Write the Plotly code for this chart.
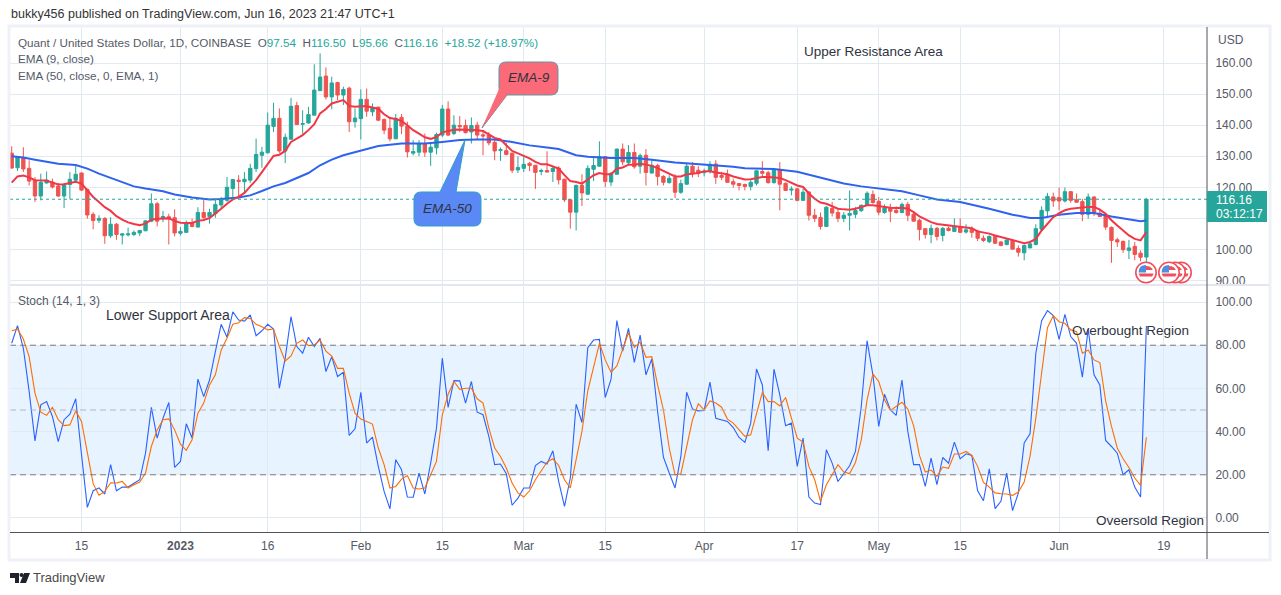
import pandas as pd
import plotly.graph_objects as go
from plotly.subplots import make_subplots

# daily candles, one line per month (Dec 3 2022 -> Jun 16 2023)
dates = pd.date_range("2022-12-03", "2023-06-16", freq="D")

opens = [
    131.0,126.3,129.5,126.1,122.3,117.2,121.4,121.7,120.4,117.2,120.9,122.3,124.6,119.3,111.3,109.4,110.0,104.4,108.1,104.6,104.7,104.8,105.3,106.0,109.1,114.7,110.0,110.5,110.2,
    105.2,105.5,108.5,107.2,111.9,110.6,111.5,114.3,115.8,119.6,122.3,121.8,122.3,126.0,130.3,131.1,139.6,142.2,131.7,135.5,146.3,140.3,140.7,143.2,151.1,155.8,149.1,153.7,149.7,151.9,141.1,
    142.1,148.3,144.3,145.8,141.8,139.0,135.6,142.5,139.7,131.0,131.3,134.1,131.3,132.7,136.8,145.2,137.3,139.9,139.9,137.8,140.0,136.9,136.8,134.5,131.9,131.8,131.0,125.6,
    126.1,127.7,127.1,125.1,125.4,125.1,126.2,122.6,116.0,112.0,120.6,117.8,125.8,126.8,129.9,121.7,124.2,132.3,127.9,131.2,126.8,130.3,124.6,127.0,123.5,121.5,123.1,118.4,121.0,126.8,125.5,
    124.7,125.2,127.5,123.8,123.8,121.8,121.2,120.9,120.3,121.3,125.1,124.7,121.5,125.6,121.3,119.1,119.5,115.8,118.5,111.0,110.3,107.4,113.2,111.9,110.0,111.0,111.3,112.5,114.2,117.7,
    115.5,111.9,113.4,112.6,111.9,114.5,111.3,109.4,106.7,104.8,106.8,104.5,106.8,105.8,107.4,105.6,106.5,105.9,103.6,102.5,104.2,102.4,101.6,102.9,100.3,98.9,100.5,101.6,106.5,112.4,116.9,
    116.7,115.6,118.6,116.0,115.4,111.3,116.9,111.7,111.0,107.1,103.1,102.6,99.7,101.0,98.8,97.54,
]
highs = [
    133.2,130.0,132.9,128.7,123.3,124.4,125.1,122.8,121.4,121.4,124.9,127.3,124.8,119.6,112.0,111.0,110.4,110.4,108.5,105.3,107.0,106.1,106.3,109.3,118.0,115.3,112.4,111.5,112.9,
    107.2,109.3,109.9,113.6,116.0,113.1,116.3,116.9,123.3,122.6,123.9,124.9,127.6,135.7,133.0,144.1,147.2,145.4,137.3,148.8,147.5,144.8,145.9,159.6,163.1,158.6,155.6,154.0,152.4,152.4,145.4,
    151.5,151.8,147.0,145.9,142.2,142.5,143.6,143.6,141.1,135.2,135.2,137.3,134.3,137.6,146.5,147.7,143.2,142.9,141.8,142.5,141.1,138.4,137.8,135.7,132.8,134.3,131.1,130.0,
    130.0,128.2,127.2,126.0,131.6,126.6,126.8,122.8,116.0,120.9,124.2,127.1,129.8,134.8,130.0,124.9,132.5,134.1,133.6,134.1,130.9,132.3,128.7,127.6,123.9,123.9,124.2,122.5,128.0,128.1,126.8,
    126.0,128.4,128.7,125.0,125.7,122.8,121.4,121.2,122.3,125.5,128.4,125.3,126.0,128.1,121.5,120.3,119.8,119.6,118.7,113.1,111.9,113.9,115.3,113.1,112.0,119.0,113.7,114.5,118.7,119.0,
    116.9,114.5,114.7,113.9,115.1,115.3,111.7,109.9,106.8,108.0,107.2,107.2,107.4,110.0,110.0,108.1,107.4,106.3,104.5,104.5,104.5,102.7,103.4,103.4,101.3,101.6,102.0,108.1,113.9,118.2,118.3,
    119.9,119.9,118.8,118.0,116.3,118.0,117.1,113.1,111.7,107.4,103.8,102.9,103.1,102.4,99.7,116.50,
]
lows = [
    126.0,125.3,124.9,120.6,115.3,115.8,121.2,119.6,116.9,113.3,116.1,121.7,118.8,109.9,106.5,108.5,101.8,103.7,103.1,101.6,104.2,104.3,104.3,105.9,108.8,107.4,108.8,101.6,104.2,
    104.5,105.3,107.2,107.1,109.9,108.3,110.2,113.1,115.3,116.9,116.3,118.5,121.4,124.9,126.3,130.9,137.8,131.1,127.8,135.4,140.1,137.3,140.5,143.2,151.0,148.3,145.1,148.1,146.5,137.8,139.2,
    135.4,142.7,142.9,141.3,137.1,134.8,135.5,137.1,129.6,130.3,130.0,129.8,126.9,130.6,136.2,136.5,136.8,137.8,137.3,134.1,135.2,130.3,133.5,128.7,128.5,130.3,124.6,124.6,
    124.9,125.2,119.5,123.9,124.9,121.7,120.9,115.3,106.7,106.1,114.0,117.6,122.0,126.7,120.1,120.4,124.1,127.1,127.4,126.0,124.4,120.6,124.4,120.6,120.6,121.2,116.5,117.9,120.9,123.2,123.3,
    123.5,124.4,121.1,122.3,121.5,119.9,119.0,119.0,119.0,120.6,123.1,121.2,121.2,112.6,118.9,117.4,115.5,115.7,109.3,108.8,106.4,107.3,110.6,108.8,108.8,106.1,110.1,112.0,114.1,114.7,
    111.0,111.5,108.8,111.5,111.7,109.1,109.0,102.9,103.5,102.0,102.9,102.6,105.8,105.7,105.4,105.1,103.8,102.7,102.4,102.0,101.8,101.0,101.3,100.0,97.7,96.5,100.4,101.3,106.3,110.4,113.7,
    112.6,115.1,115.0,115.0,109.1,109.9,110.8,110.4,106.3,95.7,100.8,98.9,96.9,96.5,96.2,95.66,
]
closes = [
    126.2,129.8,125.9,122.0,117.2,121.6,122.3,120.1,117.2,120.9,122.6,124.2,119.1,111.1,109.3,110.0,104.4,108.1,104.8,105.0,105.0,105.5,106.1,109.2,114.7,109.1,110.6,109.9,105.3,
    105.8,108.5,107.4,111.9,110.3,111.9,114.5,116.2,120.0,122.5,121.9,122.6,126.1,130.6,131.3,140.0,142.2,131.7,136.1,146.1,140.2,140.5,143.4,151.3,155.5,149.1,153.6,149.7,151.5,141.1,142.3,
    148.3,144.5,145.6,141.6,138.4,135.6,142.2,139.7,131.4,131.5,134.1,131.3,132.9,137.0,145.2,136.8,140.0,139.5,137.6,139.9,136.8,136.5,134.3,131.7,132.1,130.6,125.5,126.4,
    127.4,127.0,124.8,125.4,124.9,126.1,122.4,116.0,112.0,120.6,118.2,126.1,127.0,129.9,121.9,124.5,132.3,128.2,131.2,126.6,130.2,124.8,127.1,123.5,121.6,122.9,118.4,121.2,126.8,124.6,124.5,
    125.0,127.4,123.2,123.2,121.6,121.0,120.6,120.3,121.6,125.3,124.5,121.5,125.7,121.0,119.0,119.4,115.8,118.4,111.0,110.0,107.4,113.6,111.7,110.0,111.0,111.6,112.5,114.2,118.1,115.1,
    112.0,113.4,112.3,111.9,114.5,111.0,109.1,106.4,104.8,106.8,104.2,106.8,106.1,107.4,105.5,106.3,105.5,103.6,102.9,104.2,102.0,101.3,103.0,100.1,99.1,101.3,101.8,106.7,112.6,117.1,115.6,
    115.6,118.6,115.8,115.2,111.3,116.9,111.5,110.6,107.2,102.9,102.4,99.9,100.5,98.4,97.5,116.16,
]

ema9 = [
    121.5,123.5,123.8,123.2,122.3,122.2,122.2,121.5,120.9,121.0,121.3,121.8,121.2,119.0,116.9,115.3,113.6,112.4,110.7,109.6,108.7,108.2,107.8,108.3,109.6,109.9,110.0,110.0,109.2,
    108.6,108.5,108.5,109.2,109.5,110.1,111.5,113.1,114.7,116.1,116.9,118.2,120.3,122.3,124.9,127.6,130.1,130.5,131.7,134.6,135.7,136.8,138.4,140.3,143.8,145.2,147.0,147.5,148.1,146.2,145.9,
    146.1,146.1,145.7,145.3,143.5,142.3,142.0,141.3,140.0,138.4,137.3,136.1,135.6,136.2,137.7,138.2,138.5,138.6,138.6,138.6,138.4,138.1,137.0,135.9,135.4,133.5,131.7,130.9,
    130.1,129.3,128.2,127.4,127.4,126.8,126.0,123.9,122.0,121.7,121.2,122.5,123.9,124.6,124.2,124.2,126.0,126.4,127.3,127.3,127.6,127.3,126.9,126.2,125.3,124.4,123.5,123.5,124.2,124.4,124.6,
    125.2,125.2,124.8,124.6,124.2,123.5,122.9,122.5,122.6,123.0,123.3,123.3,123.1,123.0,122.3,121.5,120.6,120.1,118.0,116.3,115.1,114.7,114.0,113.1,112.9,112.8,113.1,113.6,114.2,114.2,
    113.9,113.6,113.4,113.3,113.4,113.1,112.0,110.6,109.6,108.8,108.2,108.0,107.6,107.5,107.2,107.0,106.8,105.8,105.5,105.1,104.5,104.0,103.4,102.9,102.4,102.0,102.4,103.4,106.1,108.3,110.4,
    111.7,112.6,113.1,113.3,113.7,113.7,113.7,112.8,111.5,109.4,107.7,106.1,104.5,103.4,102.9,105.6,
]

# the slow average is smooth enough to read every few days
ema50_dates = [
    "2022-12-03","2022-12-05","2022-12-07","2022-12-09","2022-12-11","2022-12-14","2022-12-16","2022-12-18","2022-12-20","2022-12-22","2022-12-24","2022-12-26","2022-12-29","2022-12-31",
    "2023-01-03","2023-01-06","2023-01-08","2023-01-11","2023-01-13","2023-01-15","2023-01-17","2023-01-19","2023-01-21","2023-01-23","2023-01-25","2023-01-27","2023-01-29",
    "2023-02-01","2023-02-04","2023-02-08","2023-02-12","2023-02-15","2023-02-18","2023-02-21","2023-02-24","2023-02-27",
    "2023-03-02","2023-03-05","2023-03-07","2023-03-10","2023-03-12","2023-03-16","2023-03-20","2023-03-23","2023-03-27","2023-03-30",
    "2023-04-03","2023-04-06","2023-04-08","2023-04-13","2023-04-17","2023-04-19","2023-04-22","2023-04-25","2023-04-28",
    "2023-05-01","2023-05-05","2023-05-08","2023-05-11","2023-05-15","2023-05-17","2023-05-20","2023-05-24","2023-05-27","2023-05-29",
    "2023-06-01","2023-06-04","2023-06-07","2023-06-10","2023-06-13","2023-06-15","2023-06-16",
]
ema50 = [
    130.0,129.6,128.9,128.3,127.6,127.2,126.0,124.4,123.0,121.6,120.3,119.6,118.7,117.7,
    116.7,116.1,116.2,116.7,117.4,118.8,120.3,121.4,123.1,124.6,127.1,128.9,130.3,
    131.9,133.3,134.1,134.1,134.6,135.2,135.4,135.4,134.6,
    133.5,132.8,132.3,130.3,129.8,129.4,129.4,128.9,128.0,127.6,
    127.1,126.6,126.1,125.9,125.0,124.1,122.6,121.2,120.3,
    119.6,118.7,117.4,116.1,115.3,114.5,113.1,111.2,110.1,110.1,
    111.2,111.7,111.7,110.6,109.7,109.1,109.3,
]

stoch_k = [
    80.9,89.1,78.6,58.6,35.7,52.4,53.9,47.0,35.4,45.5,48.1,55.2,29.3,4.9,12.6,13.9,11.1,24.7,12.6,14.3,14.3,16.2,17.7,30.0,51.2,37.0,46.2,53.5,23.4,
    26.2,43.6,37.0,64.3,56.2,63.9,77.0,89.7,83.7,95.5,91.7,91.2,94.0,84.4,86.7,89.7,87.5,60.1,74.0,93.2,79.4,76.3,83.7,79.4,83.2,67.8,74.7,65.5,67.5,38.2,41.3,
    58.2,34.7,37.4,23.9,12.3,4.2,27.0,22.3,9.7,9.6,20.8,11.1,25.4,41.6,74.0,51.2,63.6,63.5,53.2,63.2,49.0,47.8,37.8,24.7,25.0,20.5,5.9,9.2,
    13.9,13.9,24.3,26.2,25.0,31.1,16.9,5.4,18.5,52.7,44.2,78.9,82.4,82.7,55.8,64.3,91.4,77.3,87.8,72.1,84.7,66.3,73.7,49.3,28.2,20.8,13.9,28.5,58.2,50.4,49.6,
    49.8,62.9,46.2,45.5,44.7,41.9,37.3,35.0,43.9,69.0,61.6,31.1,68.9,57.0,42.7,43.9,23.9,37.0,9.7,6.9,6.2,31.6,25.4,16.9,20.8,24.2,30.8,51.6,82.1,66.3,
    42.4,57.3,50.1,47.5,63.9,40.1,24.7,24.7,14.6,27.7,15.4,28.0,25.4,35.1,27.4,29.7,29.0,12.6,8.0,22.8,4.3,7.7,20.8,3.4,11.6,34.7,39.0,76.3,91.4,96.0,93.7,
    82.7,94.3,84.0,80.9,65.2,87.5,66.3,61.6,35.9,33.1,30.0,20.0,22.3,14.3,9.7,88.9,
]
stoch_d = [
    86.6,87.5,82.9,74.7,57.8,49.0,47.5,51.2,45.5,42.8,43.1,49.6,44.7,30.0,15.9,10.5,12.3,16.3,16.2,16.9,13.9,15.4,16.6,20.8,33.1,40.8,45.5,45.9,40.8,
    34.2,31.3,36.2,48.5,53.2,61.6,66.3,77.8,83.2,89.7,90.4,92.8,92.4,89.7,88.6,87.1,87.5,79.4,72.7,75.0,80.9,82.4,79.8,80.1,82.4,77.3,75.0,69.3,69.3,57.8,48.5,
    45.8,44.7,43.5,32.4,24.7,13.9,14.6,18.0,19.7,13.9,13.4,13.9,20.0,26.2,47.8,57.3,63.2,59.6,60.1,60.1,55.2,53.2,41.6,32.4,28.5,23.1,16.2,11.6,
    9.7,12.6,17.7,21.6,25.9,27.4,24.3,17.7,13.9,27.0,40.1,58.9,69.3,80.9,73.2,67.5,70.4,77.8,85.8,79.0,81.4,74.4,74.7,61.6,50.1,32.4,20.0,20.5,33.1,45.5,52.9,
    50.1,54.2,53.2,51.3,45.8,43.9,40.8,37.8,38.5,48.5,58.1,53.9,53.9,51.9,55.8,46.2,37.0,35.1,23.9,17.7,7.7,15.4,20.3,24.7,21.3,20.6,25.7,36.2,54.7,66.7,
    63.2,54.7,49.8,51.6,53.6,50.4,42.8,29.0,21.3,22.2,19.3,23.6,23.0,29.6,29.6,30.8,29.0,23.9,16.5,14.3,11.6,11.2,11.1,10.5,12.0,16.6,28.5,46.2,68.6,88.1,93.7,
    90.9,90.1,87.1,86.3,76.3,77.8,73.2,72.0,54.2,42.4,32.4,27.4,23.4,18.5,15.1,37.4,
]

time_tickvals = ["2022-12-15","2023-01-01","2023-01-16","2023-02-01","2023-02-15","2023-03-01","2023-03-15","2023-04-01","2023-04-17","2023-05-01","2023-05-15","2023-06-01","2023-06-19"]
time_ticktext = ["15","<b>2023</b>","16","Feb","15","Mar","15","Apr","17","May","15","Jun","19"]
price_ticks = [90, 100, 110, 120, 130, 140, 150, 160]
# 110.00 sits behind the last price tag
price_ticktext = ["90.00", "100.00", "", "120.00", "130.00", "140.00", "150.00", "160.00"]
stoch_ticks = [0, 20, 40, 60, 80, 100]

UP = "#26a69a"
DOWN = "#ef5350"
GRID = "#e1eaf1"
TEXT = "#555a66"
FONT = "Liberation Sans"
W, H = 1281, 595
LEFT, RIGHT, TOP, BOTTOM = 10, 1207, 27, 532


# page pixels -> paper fractions
def px(x):
    return (x - LEFT) / (RIGHT - LEFT)


def py(y):
    return (BOTTOM - y) / (BOTTOM - TOP)


def path(points):
    # points are (cmd, x, y) or (cmd, cx, cy, x, y) for Q
    out = []
    for p in points:
        if p[0] == "Z":
            out.append("Z")
        elif p[0] == "Q":
            out.append(f"Q {px(p[1]):.5f} {py(p[2]):.5f} {px(p[3]):.5f} {py(p[4]):.5f}")
        else:
            out.append(f"{p[0]} {px(p[1]):.5f} {py(p[2]):.5f}")
    return " ".join(out)


def pixel_shape(points, fill, line=None, width=1):
    return dict(type="path", xref="paper", yref="paper", path=path(points), fillcolor=fill,
                line=dict(color=line or "rgba(0,0,0,0)", width=width))


def pixel_line(x0, y0, x1, y1, color, width=1, dash="solid"):
    return dict(type="line", xref="paper", yref="paper", x0=px(x0), y0=py(y0), x1=px(x1), y1=py(y1),
                line=dict(color=color, width=width, dash=dash))


def label(x, y, text, size=12, color=TEXT, anchor="left", **kw):
    return dict(xref="paper", yref="paper", x=px(x), y=py(y), text=text, showarrow=False, xanchor=anchor,
                yanchor="middle", borderpad=0, font=dict(family=FONT, size=size, color=color), **kw)


def callout(x0, y0, x1, y1, tail, fill, line):
    r = 7
    (tx, ty), (bx0, by0), (bx1, by1) = tail
    if by0 <= y0 + 1:  # tail leaves the top edge
        top = [("L", bx0, y0), ("L", tx, ty), ("L", bx1, y0)]
        bot = []
    else:
        top = []
        bot = [("L", bx1, y1), ("L", tx, ty), ("L", bx0, y1)]
    pts = [("M", x0 + r, y0)] + top + [("L", x1 - r, y0), ("Q", x1, y0, x1, y0 + r), ("L", x1, y1 - r), ("Q", x1, y1, x1 - r, y1)]
    pts += bot + [("L", x0 + r, y1), ("Q", x0, y1, x0, y1 - r), ("L", x0, y0 + r), ("Q", x0, y0, x0 + r, y0), ("Z",)]
    return pixel_shape(pts, fill, line, 1)


def flag(cx, cy):
    def disc(r, fill, line=None, w=1):
        return dict(type="circle", xref="paper", yref="paper", x0=px(cx - r), x1=px(cx + r), y0=py(cy + r), y1=py(cy - r),
                    fillcolor=fill, line=dict(color=line or "rgba(0,0,0,0)", width=w))
    r = 7.4
    return [
        disc(10.2, "#ffffff", "#ef4f5c", 1.6),
        disc(r + 0.3, "#ffffff"),
        pixel_shape([("M", cx, cy - r + 1), ("Q", cx + r * 0.7, cy - r + 1, cx + r * 0.92, cy - 2.5), ("L", cx, cy - 2.5), ("Z",)], "#ef4f5c"),
        pixel_shape([("M", cx - r, cy + 1), ("L", cx + r, cy + 1), ("Q", cx + r, cy + 3, cx + r * 0.8, cy + 4), ("L", cx - r * 0.8, cy + 4), ("Z",)], "#ef4f5c"),
        pixel_shape([("M", cx - r, cy), ("Q", cx - r, cy - r, cx, cy - r), ("L", cx, cy), ("Z",)], "#4d8fe0"),
    ]


fig = make_subplots(rows=2, cols=1, shared_xaxes=True, vertical_spacing=0.003, row_heights=[0.51, 0.49])

fig.add_trace(go.Candlestick(
    x=dates, open=opens, high=highs, low=lows, close=closes,
    increasing=dict(line=dict(color=UP, width=1), fillcolor=UP),
    decreasing=dict(line=dict(color=DOWN, width=1), fillcolor=DOWN),
    whiskerwidth=0, hoverinfo="skip",
), row=1, col=1)
fig.add_trace(go.Scatter(x=ema50_dates, y=ema50, mode="lines", line=dict(color="#2f62ee", width=2), hoverinfo="skip"), row=1, col=1)
fig.add_trace(go.Scatter(x=dates, y=ema9, mode="lines", line=dict(color="#f23645", width=2), hoverinfo="skip"), row=1, col=1)
fig.add_trace(go.Scatter(x=dates, y=stoch_k, mode="lines", line=dict(color="#2962ff", width=1.1), hoverinfo="skip"), row=2, col=1)
fig.add_trace(go.Scatter(x=dates, y=stoch_d, mode="lines", line=dict(color="#ff6d00", width=1.1), hoverinfo="skip"), row=2, col=1)

x_range = ["2022-12-02 17:00", "2023-06-26 10:00"]
fig.update_xaxes(range=x_range, tickvals=time_tickvals, ticktext=time_ticktext, tickangle=0, showgrid=True, gridcolor=GRID,
                 gridwidth=1, zeroline=False, showline=False, ticks="outside", ticklen=3, tickcolor="rgba(0,0,0,0)",
                 tickfont=dict(family=FONT, size=12, color=TEXT), rangeslider_visible=False, fixedrange=True)
fig.update_yaxes(side="right", showgrid=True, gridcolor=GRID, gridwidth=1, zeroline=False, showline=False, tickformat=".2f",
                 ticks="outside", ticklen=5, tickcolor="rgba(0,0,0,0)", tickfont=dict(family=FONT, size=12, color=TEXT), fixedrange=True)
fig.update_yaxes(range=[88.7, 171.6], tickvals=price_ticks, ticktext=price_ticktext, row=1, col=1)
fig.update_yaxes(range=[-6.5, 107.4], tickvals=stoch_ticks, row=2, col=1)

shapes = [
    # stoch band and its three levels
    dict(type="rect", xref="x2 domain", yref="y2", x0=0, x1=1, y0=20, y1=80, fillcolor="rgba(33,150,243,0.11)", line_width=0, layer="below"),
    dict(type="line", xref="x2 domain", yref="y2", x0=0, x1=1, y0=80, y1=80, line=dict(color="#787b86", width=1, dash="6px,4px")),
    dict(type="line", xref="x2 domain", yref="y2", x0=0, x1=1, y0=50, y1=50, line=dict(color="#b2b5be", width=1, dash="6px,4px")),
    dict(type="line", xref="x2 domain", yref="y2", x0=0, x1=1, y0=20, y1=20, line=dict(color="#787b86", width=1, dash="6px,4px")),
    # last price
    dict(type="line", xref="x domain", yref="y", x0=0, x1=1, y0=closes[-1], y1=closes[-1], line=dict(color=UP, width=1, dash="dot")),
    # frame, pane divider, axis lines
    dict(type="rect", xref="paper", yref="paper", x0=px(9), y0=py(26), x1=px(1270), y1=py(560), line=dict(color="#eef1f7", width=3), fillcolor="rgba(0,0,0,0)"),
    pixel_line(10, 285, 1269, 285, "#e3e6ee", 2),
    pixel_line(10, 532.5, 1269, 532.5, "#50535e", 1),
    pixel_line(1207, 27, 1207, 559, "#50535e", 1),
    # last price tag
    dict(type="rect", xref="paper", yref="paper", x0=px(1207), y0=py(191), x1=px(1267), y1=py(222), fillcolor=UP, line_width=0),
    # callouts
    callout(499, 62, 558, 95, ((482, 128), (499, 88), (507, 95)), "#fa6a78", "#5f97a3"),
    callout(414, 192, 481, 226, ((465, 140), (440, 192), (456, 192)), "#5a88f5", "#2aa2c5"),
]
# callout tail of EMA-9 hangs off the bottom-left corner, redraw it as its own wedge
shapes.append(pixel_shape([("M", 499.5, 88), ("L", 482, 128), ("L", 507, 95), ("L", 506, 90), ("Z",)], "#fa6a78"))
for cx in (1181, 1175, 1169, 1146):
    shapes.extend(flag(cx, 272.5))
# TradingView logo
shapes.append(pixel_shape([("M", 10, 573), ("L", 19, 573), ("L", 19, 583), ("L", 15, 583), ("L", 15, 578), ("L", 10, 578), ("Z",)], "#1f212b"))
shapes.append(pixel_shape([("M", 19.5, 575), ("Q", 19.5, 573, 21.5, 573), ("Q", 23.5, 573, 23.5, 575), ("Q", 23.5, 577, 21.5, 577), ("Q", 19.5, 577, 19.5, 575), ("Z",)], "#1f212b"))
shapes.append(pixel_shape([("M", 24, 573), ("L", 30, 573), ("L", 26, 583), ("L", 20, 583), ("Z",)], "#1f212b"))

hdr = "Quant / United States Dollar, 1D, COINBASE  O<span style='color:#26a69a'>97.54</span>  H<span style='color:#26a69a'>116.50</span>  L<span style='color:#26a69a'>95.66</span>  C<span style='color:#26a69a'>116.16</span>  <span style='color:#26a69a'>+18.52 (+18.97%)</span>"
annotations = [
    label(10, 14, "bukky456 published on TradingView.com, Jun 16, 2023 21:47 UTC+1", 12.5, "#333333"),
    label(17, 42, hdr, 11.7),
    label(17, 59, "EMA (9, close)", 11.7),
    label(17, 76, "EMA (50, close, 0, EMA, 1)", 11.7),
    label(17, 301, "Stoch (14, 1, 3)", 12),
    label(803, 51, "Upper Resistance Area", 13.5, "#2f3340"),
    label(105, 315, "Lower Support Area", 14, "#2f3340"),
    label(1071, 330, "Overbought Region", 13.5, "#2f3340"),
    label(1095, 520, "Oveersold Region", 13.5, "#2f3340"),
    label(529, 78, "<i>EMA-9</i>", 13.5, "#2f3340", "center"),
    label(447, 208, "<i>EMA-50</i>", 13.5, "#2f3340", "center"),
    label(1217, 40, "USD", 12),
    label(1215, 200, "116.16", 12, "#ffffff"),
    label(1215, 214, "03:12:17", 12, "#ffffff"),
    label(32, 577, "TradingView", 13, "#4a4a4a"),
]

fig.update_layout(
    width=W, height=H, margin=dict(l=LEFT, r=W - RIGHT, t=TOP, b=H - BOTTOM, pad=0, autoexpand=False),
    paper_bgcolor="#ffffff", plot_bgcolor="#ffffff", showlegend=False, hovermode=False, dragmode=False,
    shapes=shapes, annotations=annotations, font=dict(family=FONT), boxgap=0.18,
)
fig.update_layout(yaxis_domain=[0.49, 1.0], yaxis2_domain=[0.0, 0.487])

fig.write_html("out.html", config=dict(displayModeBar=False), post_script="document.body.style.margin='0';")
